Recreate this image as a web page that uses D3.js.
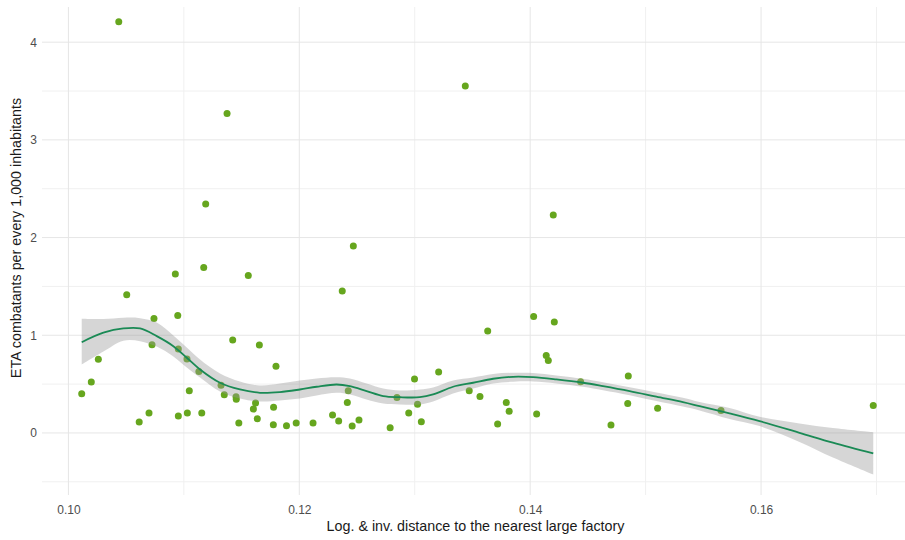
<!DOCTYPE html>
<html>
<head>
<meta charset="utf-8">
<script src="https://cdn.jsdelivr.net/npm/d3@7"></script>
<style>
  html, body { margin: 0; padding: 0; background: #ffffff; }
  svg { display: block; }
  text { font-family: "Liberation Sans", Arial, sans-serif; }
</style>
</head>
<body>
<svg id="chart" width="905" height="540"></svg>
<script>
// Municipalities: log & inverse distance to nearest large factory vs ETA combatants per 1,000 inhabitants
const distance = [
  0.10115, 0.10198, 0.10259, 0.10436, 0.10505, 0.10613, 0.10698, 0.10724, 0.10741, 0.10926,
  0.10947, 0.10952, 0.10952, 0.11027, 0.11030, 0.11047, 0.11130, 0.11155, 0.11172, 0.11189,
  0.11322, 0.11350, 0.11374, 0.11423, 0.11452, 0.11454, 0.11476, 0.11558, 0.11602, 0.11621,
  0.11636, 0.11654, 0.11777, 0.11775, 0.11798, 0.11889, 0.11973, 0.12119, 0.12288, 0.12341,
  0.12372, 0.12416, 0.12424, 0.12458, 0.12468, 0.12517, 0.12787, 0.12846, 0.12948, 0.12998,
  0.13024, 0.13057, 0.13207, 0.13438, 0.13472, 0.13565, 0.13632, 0.13718, 0.13793, 0.13818,
  0.14030, 0.14056, 0.14139, 0.14157, 0.14200, 0.14209, 0.14437, 0.14700, 0.14845, 0.14850,
  0.15104, 0.15653, 0.16972
];
const combatants = [
  0.401, 0.521, 0.754, 4.209, 1.415, 0.112, 0.204, 0.903, 1.172, 1.626,
  1.203, 0.859, 0.174, 0.756, 0.204, 0.432, 0.629, 0.204, 1.694, 2.343,
  0.488, 0.391, 3.270, 0.951, 0.371, 0.345, 0.102, 1.612, 0.245, 0.306,
  0.145, 0.900, 0.263, 0.084, 0.683, 0.074, 0.102, 0.102, 0.183, 0.123,
  1.452, 0.312, 0.432, 0.071, 1.913, 0.133, 0.053, 0.363, 0.204, 0.553,
  0.294, 0.115, 0.623, 3.551, 0.432, 0.373, 1.043, 0.092, 0.312, 0.222,
  1.192, 0.193, 0.793, 0.742, 2.230, 1.135, 0.524, 0.082, 0.302, 0.582,
  0.253, 0.230, 0.281
];

// Loess fit with its standard-error band
const smoothX = [
  0.10115, 0.10303, 0.10476, 0.10621, 0.10765, 0.10909, 0.11025, 0.11140, 0.11313, 0.11486,
  0.11659, 0.11832, 0.12005, 0.12150, 0.12323, 0.12438, 0.12583, 0.12727, 0.12871, 0.13044,
  0.13159, 0.13332, 0.13506, 0.13679, 0.13852, 0.14025, 0.14227, 0.14458, 0.14631, 0.14862,
  0.15093, 0.15323, 0.15468, 0.15727, 0.15987, 0.16333, 0.16622, 0.16972
];
const smoothFit = [
  0.929, 1.026, 1.070, 1.070, 0.991, 0.888, 0.770, 0.650, 0.514, 0.445,
  0.411, 0.418, 0.445, 0.473, 0.496, 0.479, 0.428, 0.377, 0.366, 0.366,
  0.394, 0.473, 0.514, 0.555, 0.575, 0.571, 0.548, 0.514, 0.479, 0.428,
  0.371, 0.315, 0.274, 0.200, 0.121, 0.002, -0.100, -0.210
];
const smoothHi = [
  1.169, 1.166, 1.180, 1.175, 1.131, 0.998, 0.875, 0.752, 0.609, 0.527,
  0.486, 0.507, 0.537, 0.558, 0.571, 0.558, 0.507, 0.455, 0.435, 0.445,
  0.466, 0.537, 0.568, 0.604, 0.616, 0.614, 0.589, 0.555, 0.520, 0.469,
  0.415, 0.360, 0.317, 0.256, 0.166, 0.097, 0.051, 0.008
];
const smoothLo = [
  0.701, 0.834, 0.945, 0.940, 0.885, 0.783, 0.670, 0.568, 0.425, 0.353,
  0.322, 0.333, 0.353, 0.384, 0.411, 0.394, 0.343, 0.302, 0.292, 0.292,
  0.322, 0.404, 0.455, 0.507, 0.524, 0.527, 0.507, 0.473, 0.438, 0.387,
  0.326, 0.270, 0.230, 0.143, 0.070, -0.092, -0.251, -0.425
];

const xMajor = [0.10, 0.12, 0.14, 0.16];
const xMinor = [0.11, 0.13, 0.15, 0.17];
const yMajor = [0, 1, 2, 3, 4];
const yMinor = [-0.5, 0.5, 1.5, 2.5, 3.5];

const xTitle = "Log. & inv. distance to the nearest large factory";
const yTitle = "ETA combatants per every 1,000 inhabitants";

const svg = d3.select("#chart");
const panel = { left: 42, right: 905, top: 7, bottom: 495 };

const x = d3.scaleLinear().domain([0.09771, 0.17247]).range([panel.left, panel.right]);
const y = d3.scaleLinear().domain([-0.635, 4.36]).range([panel.bottom, panel.top]);

// Grid
const grid = svg.append("g");
grid.selectAll(".vminor").data(xMinor).join("line")
  .attr("x1", d => x(d)).attr("x2", d => x(d))
  .attr("y1", panel.top).attr("y2", panel.bottom)
  .attr("stroke", "#f0f0f0").attr("stroke-width", 1);
grid.selectAll(".hminor").data(yMinor).join("line")
  .attr("y1", d => y(d)).attr("y2", d => y(d))
  .attr("x1", panel.left).attr("x2", panel.right)
  .attr("stroke", "#f0f0f0").attr("stroke-width", 1);
grid.selectAll(".vmajor").data(xMajor).join("line")
  .attr("x1", d => x(d)).attr("x2", d => x(d))
  .attr("y1", panel.top).attr("y2", panel.bottom)
  .attr("stroke", "#e6e6e6").attr("stroke-width", 1);
grid.selectAll(".hmajor").data(yMajor).join("line")
  .attr("y1", d => y(d)).attr("y2", d => y(d))
  .attr("x1", panel.left).attr("x2", panel.right)
  .attr("stroke", "#e6e6e6").attr("stroke-width", 1);

// Points
const pts = distance.map((d, i) => ({ x: d, y: combatants[i] }));
svg.append("g").selectAll("circle").data(pts).join("circle")
  .attr("cx", d => x(d.x)).attr("cy", d => y(d.y)).attr("r", 3.5)
  .attr("fill", "#66a61e");

// Confidence band and fitted curve
const sm = smoothX.map((d, i) => ({ x: d, fit: smoothFit[i], lo: smoothLo[i], hi: smoothHi[i] }));
svg.append("path").datum(sm)
  .attr("d", d3.area().x(d => x(d.x)).y0(d => y(d.lo)).y1(d => y(d.hi)).curve(d3.curveCatmullRom))
  .attr("fill", "#999999").attr("fill-opacity", 0.4);
svg.append("path").datum(sm)
  .attr("d", d3.line().x(d => x(d.x)).y(d => y(d.fit)).curve(d3.curveCatmullRom))
  .attr("fill", "none").attr("stroke", "#1a8a55").attr("stroke-width", 1.8);

// Axes (ticks and labels only, no domain lines)
const xAxis = svg.append("g").attr("transform", `translate(0,${panel.bottom})`)
  .call(d3.axisBottom(x).tickValues(xMajor).tickFormat(d3.format(".2f")).tickSize(0).tickPadding(10));
const yAxis = svg.append("g").attr("transform", `translate(${panel.left},0)`)
  .call(d3.axisLeft(y).tickValues(yMajor).tickFormat(d3.format("d")).tickSize(0).tickPadding(5));
[xAxis, yAxis].forEach(a => {
  a.select(".domain").remove();
  a.selectAll("text").attr("fill", "#4d4d4d").attr("font-size", 12)
    .style("font-family", "'Liberation Sans', Arial, sans-serif");
});

// Axis titles
svg.append("text").attr("x", (panel.left + panel.right) / 2 + 2).attr("y", 531)
  .attr("text-anchor", "middle").attr("font-size", 14.3).attr("fill", "#1a1a1a").text(xTitle);
svg.append("text").attr("transform", `translate(21,${(panel.top + panel.bottom) / 2 - 13}) rotate(-90)`)
  .attr("text-anchor", "middle").attr("font-size", 14.3).attr("fill", "#1a1a1a").text(yTitle);
</script>
</body>
</html>
